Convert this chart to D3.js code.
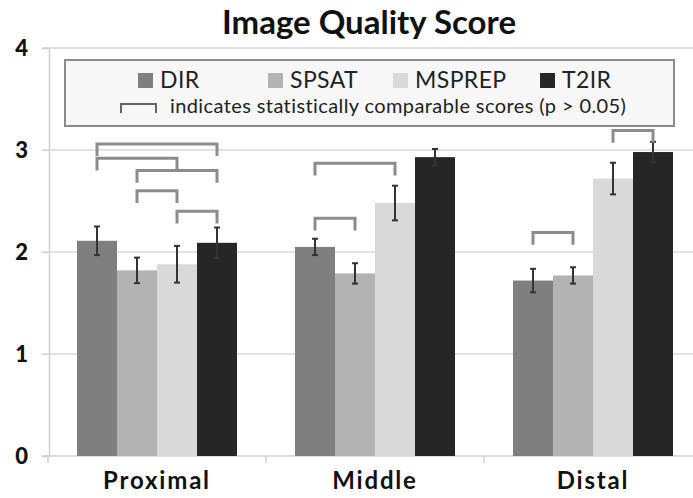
<!DOCTYPE html>
<html>
<head>
<meta charset="utf-8">
<script src="https://cdn.jsdelivr.net/npm/d3@7"></script>
<style>
  body { margin: 0; background: #fff; }
  text { font-family: Lato, "Open Sans", sans-serif; }
</style>
</head>
<body>
<svg id="chart" width="693" height="498"></svg>
<script>
const categories = ['Proximal', 'Middle', 'Distal'];
const series = ['DIR', 'SPSAT', 'MSPREP', 'T2IR'];
const yTicks = [0, 1, 2, 3, 4];

// mean score per category, one array per sequence
const dirValues = [2.11, 2.05, 1.72];
const spsatValues = [1.82, 1.79, 1.77];
const msprepValues = [1.88, 2.48, 2.72];
const t2irValues = [2.09, 2.93, 2.98];

// error bar half-lengths
const dirErr = [0.14, 0.08, 0.115];
const spsatErr = [0.125, 0.10, 0.08];
const msprepErr = [0.18, 0.17, 0.155];
const t2irErr = [0.15, 0.08, 0.10];

// comparable pairs (p > 0.05): category, from, to, bracket level
const brackets = [
  ['Proximal', 'DIR', 'T2IR', 3.06],
  ['Proximal', 'DIR', 'MSPREP', 2.92],
  ['Proximal', 'SPSAT', 'T2IR', 2.80],
  ['Proximal', 'SPSAT', 'MSPREP', 2.60],
  ['Proximal', 'MSPREP', 'T2IR', 2.40],
  ['Middle', 'DIR', 'MSPREP', 2.87],
  ['Middle', 'DIR', 'SPSAT', 2.33],
  ['Distal', 'MSPREP', 'T2IR', 3.19],
  ['Distal', 'DIR', 'SPSAT', 2.19]
];

const values = { DIR: dirValues, SPSAT: spsatValues, MSPREP: msprepValues, T2IR: t2irValues };
const errors = { DIR: dirErr, SPSAT: spsatErr, MSPREP: msprepErr, T2IR: t2irErr };
const colors = { DIR: '#7f7f7f', SPSAT: '#b3b3b3', MSPREP: '#d9d9d9', T2IR: '#262626' };

const svg = d3.select('#chart');
const margin = { top: 48, left: 49, bottom: 42 };
const height = 498;

const x0 = d3.scaleBand().domain(categories).range([48, 702]);
const x1 = d3.scaleBand().domain(series).range([0, x0.bandwidth()]).paddingOuter(0.725);
const y = d3.scaleLinear().domain([0, 4]).range([height - margin.bottom, margin.top]);

// gridlines
svg.append('g')
  .selectAll('line')
  .data(yTicks.filter(d => d > 0))
  .enter().append('line')
  .attr('x1', 42).attr('x2', 693)
  .attr('y1', d => y(d)).attr('y2', d => y(d))
  .attr('stroke', '#d9d9d9').attr('stroke-width', 1.5);

// y axis
const yAxis = svg.append('g')
  .attr('transform', `translate(${margin.left},0)`)
  .call(d3.axisLeft(y).tickValues(yTicks).tickSize(7).tickPadding(14).tickFormat(d3.format('d')));
yAxis.select('.domain').attr('stroke', '#d0d0d0').attr('stroke-width', 1.5);
yAxis.selectAll('.tick line').attr('stroke', '#d0d0d0');
yAxis.selectAll('text')
  .attr('font-size', 22).attr('font-weight', 900).attr('fill', '#111')
  .style('font-family', 'Lato, sans-serif');

// x axis
const xAxis = svg.append('g')
  .attr('transform', `translate(0,${y(0)})`)
  .call(d3.axisBottom(x0).tickSize(0).tickPadding(16));
xAxis.select('.domain').remove();
svg.append('line')
  .attr('x1', 42).attr('x2', 693).attr('y1', y(0)).attr('y2', y(0))
  .attr('stroke', '#d0d0d0').attr('stroke-width', 1.5);
svg.append('g')
  .selectAll('line')
  .data(categories)
  .enter().append('line')
  .attr('x1', d => x0(d)).attr('x2', d => x0(d))
  .attr('y1', y(0)).attr('y2', y(0) + 7)
  .attr('stroke', '#d0d0d0').attr('stroke-width', 1.5);
xAxis.selectAll('text')
  .attr('font-size', 24).attr('font-weight', 'bold').attr('fill', '#111')
  .attr('letter-spacing', 1.8)
  .style('font-family', 'Lato, sans-serif');

// bars
const groups = svg.append('g')
  .selectAll('g')
  .data(categories)
  .enter().append('g')
  .attr('transform', d => `translate(${x0(d)},0)`);

groups.selectAll('rect')
  .data((c, i) => series.map(s => ({ s, v: values[s][i], e: errors[s][i] })))
  .enter().append('rect')
  .attr('x', d => x1(d.s))
  .attr('y', d => y(d.v))
  .attr('width', x1.bandwidth())
  .attr('height', d => y(0) - y(d.v))
  .attr('fill', d => colors[d.s]);

// error bars
const err = groups.selectAll('g.err')
  .data((c, i) => series.map(s => ({ s, v: values[s][i], e: errors[s][i] })))
  .enter().append('g')
  .attr('class', 'err')
  .attr('stroke', '#333')
  .attr('stroke-width', 2);
const cx = d => x1(d.s) + x1.bandwidth() / 2;
err.append('line')
  .attr('x1', cx).attr('x2', cx)
  .attr('y1', d => y(d.v + d.e)).attr('y2', d => y(d.v - d.e));
err.append('line')
  .attr('x1', d => cx(d) - 3).attr('x2', d => cx(d) + 3)
  .attr('y1', d => y(d.v + d.e)).attr('y2', d => y(d.v + d.e));
err.append('line')
  .attr('x1', d => cx(d) - 3).attr('x2', d => cx(d) + 3)
  .attr('y1', d => y(d.v - d.e)).attr('y2', d => y(d.v - d.e));

// brackets
const legLen = 0.12;
svg.append('g')
  .selectAll('path')
  .data(brackets)
  .enter().append('path')
  .attr('d', d => {
    const xa = x0(d[0]) + x1(d[1]) + x1.bandwidth() / 2;
    const xb = x0(d[0]) + x1(d[2]) + x1.bandwidth() / 2;
    return `M${xa},${y(d[3] - legLen)}V${y(d[3])}H${xb}V${y(d[3] - legLen)}`;
  })
  .attr('fill', 'none')
  .attr('stroke', '#8c8c8c')
  .attr('stroke-width', 3);

// title
svg.append('text')
  .attr('x', 369).attr('y', 34)
  .attr('text-anchor', 'middle')
  .attr('font-size', 33).attr('font-weight', 'bold').attr('fill', '#111')
  .text('Image Quality Score');

// legend
const legend = svg.append('g');
legend.append('rect')
  .attr('x', 65).attr('y', 60).attr('width', 609).attr('height', 66)
  .attr('fill', '#f7f7f7').attr('stroke', '#8c8c8c').attr('stroke-width', 2);

const legendX = [138, 268, 393, 540];
const items = legend.selectAll('g.item')
  .data(series)
  .enter().append('g')
  .attr('class', 'item')
  .attr('transform', (d, i) => `translate(${legendX[i]},73)`);
items.append('rect')
  .attr('width', 15).attr('height', 15)
  .attr('fill', d => colors[d]);
items.append('text')
  .attr('x', 22).attr('y', 15)
  .attr('font-size', 23).attr('fill', '#222')
  .attr('letter-spacing', 0.4)
  .text(d => d);

legend.append('path')
  .attr('d', 'M121,113V104H156V113')
  .attr('fill', 'none').attr('stroke', '#666').attr('stroke-width', 2);
legend.append('text')
  .attr('x', 170).attr('y', 113)
  .attr('font-size', 20).attr('fill', '#222')
  .attr('letter-spacing', 0.4)
  .text('indicates statistically comparable scores (p > 0.05)');
</script>
</body>
</html>
